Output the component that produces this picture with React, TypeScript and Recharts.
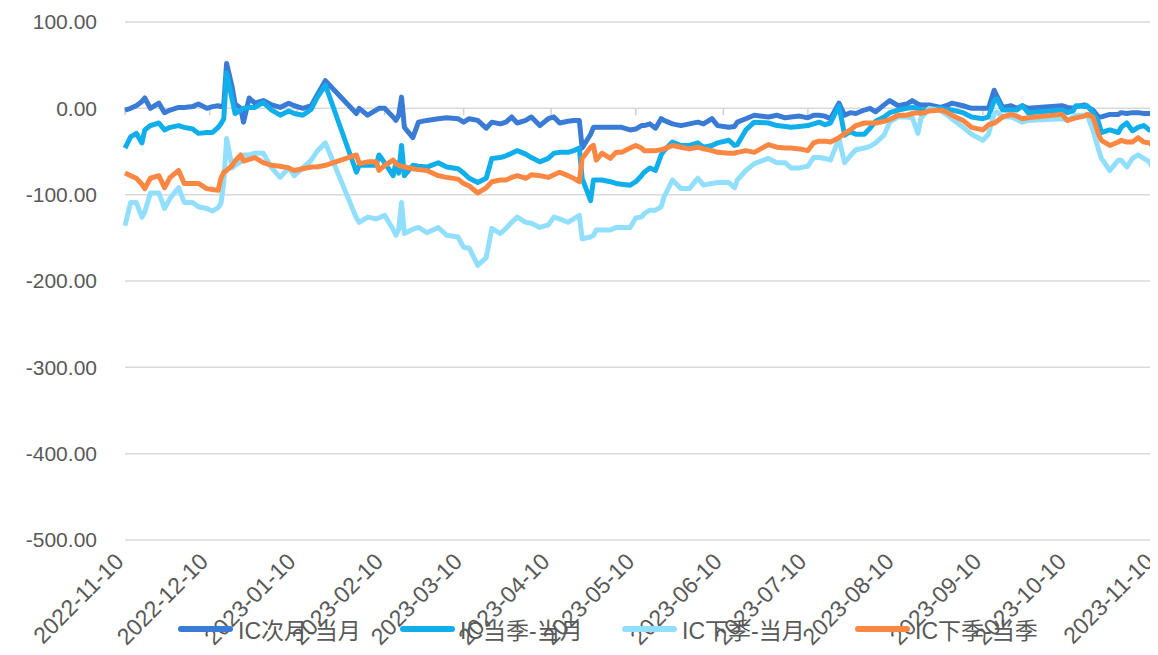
import { LineChart, Line, XAxis, YAxis, CartesianGrid, Legend, ReferenceLine } from 'recharts';

const dates = [
  '2022-11-10', '2022-11-12', '2022-11-14', '2022-11-16', '2022-11-17', '2022-11-19', '2022-11-22', '2022-11-24',
  '2022-11-26', '2022-11-29', '2022-12-01', '2022-12-04', '2022-12-06', '2022-12-09', '2022-12-11', '2022-12-13',
  '2022-12-14', '2022-12-15', '2022-12-16', '2022-12-18', '2022-12-19', '2022-12-21', '2022-12-22', '2022-12-24',
  '2022-12-26', '2022-12-29', '2023-01-01', '2023-01-04', '2023-01-07', '2023-01-09', '2023-01-12', '2023-01-15',
  '2023-01-17', '2023-01-20', '2023-01-31', '2023-02-01', '2023-02-04', '2023-02-07', '2023-02-08', '2023-02-10',
  '2023-02-13', '2023-02-14', '2023-02-15', '2023-02-16', '2023-02-17', '2023-02-20', '2023-02-22', '2023-02-25',
  '2023-03-01', '2023-03-04', '2023-03-08', '2023-03-10', '2023-03-12', '2023-03-15', '2023-03-18', '2023-03-20',
  '2023-03-23', '2023-03-25', '2023-03-27', '2023-03-29', '2023-04-01', '2023-04-03', '2023-04-06', '2023-04-09',
  '2023-04-11', '2023-04-13', '2023-04-16', '2023-04-18', '2023-04-20', '2023-04-21', '2023-04-24', '2023-04-25',
  '2023-04-26', '2023-04-28', '2023-05-01', '2023-05-03', '2023-05-05', '2023-05-08', '2023-05-10', '2023-05-12',
  '2023-05-13', '2023-05-15', '2023-05-17', '2023-05-19', '2023-05-20', '2023-05-23', '2023-05-26', '2023-05-29',
  '2023-06-01', '2023-06-03', '2023-06-06', '2023-06-08', '2023-06-12', '2023-06-14', '2023-06-15', '2023-06-18',
  '2023-06-21', '2023-06-26', '2023-06-29', '2023-07-02', '2023-07-04', '2023-07-07', '2023-07-10', '2023-07-12',
  '2023-07-14', '2023-07-16', '2023-07-18', '2023-07-21', '2023-07-23', '2023-07-25', '2023-07-27', '2023-07-30',
  '2023-08-01', '2023-08-03', '2023-08-06', '2023-08-08', '2023-08-11', '2023-08-14', '2023-08-16', '2023-08-18',
  '2023-08-19', '2023-08-22', '2023-08-26', '2023-08-28', '2023-08-30', '2023-09-03', '2023-09-06', '2023-09-10',
  '2023-09-12', '2023-09-14', '2023-09-15', '2023-09-17', '2023-09-20', '2023-09-22', '2023-09-24', '2023-09-26',
  '2023-10-08', '2023-10-10', '2023-10-12', '2023-10-13', '2023-10-16', '2023-10-17', '2023-10-19', '2023-10-21',
  '2023-10-22', '2023-10-25', '2023-10-28', '2023-10-29', '2023-10-31', '2023-11-02', '2023-11-04', '2023-11-06',
  '2023-11-08', '2023-11-09',
];

// IC次月-当月
const nextMonth = [
  -2, 0, 3, 8, 12, 0, 6, -5, -2, 1, 1, 2, 5, 0, 2, 3,
  2, 4, 52, 24, 5, 0, -16, 12, 6, 9, 4, 1, 6, 3, 0, 3,
  15, 32, -6, 0, -8, -2, 0, 0, -10, -14, -8, 13, -22, -34, -16, -14,
  -12, -11, -12, -16, -12, -14, -23, -16, -18, -16, -10, -17, -14, -10, -20, -12,
  -10, -17, -15, -14, -14, -46, -30, -22, -22, -22, -22, -22, -22, -25, -24, -20,
  -20, -18, -23, -12, -14, -18, -20, -18, -16, -18, -12, -20, -22, -21, -16, -12,
  -8, -10, -8, -11, -10, -9, -11, -8, -8, -9, -12, 6, -8, -5, -6, -2,
  0, -4, 4, 9, 3, 5, 9, 5, 4, 4, 1, 3, 6, 3, 0, 0,
  0, 21, 14, 1, 3, 0, 3, 0, 3, 1, 0, 2, 4, 2, -2, -10,
  -10, -7, -7, -5, -6, -5, -5, -6, -6, -7,
];

// IC当季-当月
const curQuarter = [
  -46, -33, -29, -40, -25, -20, -17, -25, -22, -20, -22, -24, -29, -28, -28, -22,
  -18, -12, 41, 10, -6, -2, 0, 1, 1, 7, -2, -8, -3, -6, -8, -1,
  12, 27, -74, -66, -66, -66, -54, -63, -78, -63, -75, -43, -78, -66, -67, -68,
  -63, -68, -70, -75, -81, -86, -81, -58, -57, -55, -52, -49, -53, -57, -62, -58,
  -52, -51, -51, -49, -46, -81, -107, -83, -83, -83, -85, -87, -88, -89, -85, -78,
  -74, -69, -72, -54, -49, -39, -43, -43, -40, -45, -43, -40, -37, -43, -42, -25,
  -16, -17, -20, -21, -22, -21, -20, -18, -16, -19, -17, 3, -31, -27, -30, -30,
  -23, -15, -10, -5, -2, 0, 1, 0, -2, -1, 0, -1, -2, -5, -10, -12,
  -10, 9, 11, -2, -2, -2, 3, -5, -2, -5, -3, 3, 2, 3, -5, -16,
  -28, -25, -28, -22, -17, -26, -22, -20, -25, -25,
];

// IC下季-当月
const nextQuarter = [
  -136, -109, -109, -126, -120, -98, -98, -116, -104, -92, -109, -109, -114, -116, -119, -115,
  -110, -86, -35, -69, -66, -62, -54, -54, -52, -52, -69, -80, -69, -78, -69, -60,
  -50, -40, -127, -132, -126, -128, -127, -124, -140, -147, -140, -109, -145, -140, -138, -144,
  -138, -147, -149, -161, -162, -182, -173, -139, -145, -139, -132, -126, -132, -133, -138, -135,
  -126, -128, -132, -128, -124, -151, -149, -147, -141, -141, -141, -138, -138, -138, -127, -126,
  -122, -118, -118, -114, -103, -83, -93, -93, -81, -89, -87, -86, -86, -92, -83, -72,
  -64, -58, -63, -63, -69, -69, -67, -57, -57, -58, -60, -35, -63, -55, -48, -46,
  -44, -40, -31, -16, -10, -10, -11, -29, -12, 0, -3, -7, -12, -22, -30, -37,
  -30, -6, -4, -10, -10, -13, -16, -14, -12, -14, -10, -8, -8, -8, -25, -48,
  -58, -72, -60, -60, -68, -58, -54, -58, -62, -68,
];

// IC下季-当季
const nextVsCurQuarter = [
  -75, -78, -81, -88, -93, -81, -78, -92, -80, -72, -87, -87, -87, -93, -94, -95,
  -81, -74, -72, -66, -61, -54, -61, -59, -57, -63, -66, -67, -69, -72, -70, -68,
  -68, -66, -54, -64, -62, -62, -72, -66, -60, -64, -66, -67, -68, -70, -71, -72,
  -78, -80, -82, -87, -90, -98, -92, -85, -83, -83, -80, -78, -81, -77, -78, -80,
  -77, -74, -78, -81, -85, -58, -45, -43, -60, -52, -58, -51, -51, -46, -43, -46,
  -49, -49, -49, -48, -47, -43, -45, -47, -45, -47, -49, -51, -52, -52, -51, -49,
  -51, -42, -45, -46, -46, -47, -49, -40, -38, -38, -39, -34, -29, -25, -20, -17,
  -17, -17, -15, -13, -8, -8, -6, -5, -6, -3, -2, -4, -8, -14, -22, -25,
  -19, -17, -15, -10, -7, -9, -12, -11, -7, -14, -12, -11, -9, -7, -10, -30,
  -37, -43, -39, -37, -39, -39, -34, -39, -40, -43,
];

const seriesNames = ['IC次月-当月', 'IC当季-当月', 'IC下季-当月', 'IC下季-当季'];
const seriesColors = ['#3A7BD5', '#11AEEC', '#92DFFD', '#FB8742'];
const seriesKeys = ['a', 'b', 'c', 'd'];

const xTickDates = [
  '2022-11-10', '2022-12-10', '2023-01-10', '2023-02-10', '2023-03-10', '2023-04-10', '2023-05-10',
  '2023-06-10', '2023-07-10', '2023-08-10', '2023-09-10', '2023-10-10', '2023-11-10',
];
const yTicks = [-500, -400, -300, -200, -100, 0, 100];

const toTime = (d: string) => Date.parse(d + 'T00:00:00Z');

const data = dates.map((d, i) => ({
  t: toTime(d),
  a: nextMonth[i],
  b: curQuarter[i],
  c: nextQuarter[i],
  d: nextVsCurQuarter[i],
}));

const xTicks = xTickDates.map(toTime);
const fmtDate = (t: number) => new Date(t).toISOString().slice(0, 10);

const FONT = '"Liberation Sans", Arial, "Noto Sans CJK SC", sans-serif';
const TEXT = '#595959';

const DateTick = ({ x, y, payload }: any) => {
  const ax = x;
  const ay = y + 15;
  return (
    <text
      x={ax}
      y={ay}
      transform={`rotate(-45 ${ax} ${ay})`}
      textAnchor="end"
      fill={TEXT}
      fontSize={23}
      fontFamily={FONT}
    >
      {fmtDate(payload.value)}
    </text>
  );
};

const itemWidths = [222, 222, 233, 200];

const LegendContent = () => (
  <div style={{ display: 'flex', alignItems: 'center', fontFamily: FONT, fontSize: 23, color: TEXT }}>
    {seriesNames.map((name, i) => (
      <div key={name} style={{ display: 'flex', alignItems: 'center', width: itemWidths[i] }}>
        <span
          style={{
            display: 'inline-block',
            width: 55,
            height: 6,
            borderRadius: 3,
            background: seriesColors[i],
            marginRight: 5,
          }}
        />
        <span>{name}</span>
      </div>
    ))}
  </div>
);

export default function App() {
  return (
    <LineChart width={1150} height={647} data={data} margin={{ top: 14, right: 3, left: 0, bottom: 0 }}>
      <CartesianGrid vertical={false} stroke="#D9D9D9" strokeWidth={1.5} />
      <XAxis
        dataKey="t"
        type="number"
        scale="time"
        domain={[xTicks[0], xTicks[xTicks.length - 1]]}
        ticks={xTicks}
        interval={0}
        axisLine={false}
        tickLine={false}
        height={115}
        tick={<DateTick />}
      />
      <YAxis
        domain={[-500, 100]}
        ticks={yTicks}
        interval={0}
        width={117}
        axisLine={false}
        tickLine={false}
        tickMargin={22}
        tickFormatter={(v: number) => v.toFixed(2)}
        tick={{ fill: TEXT, fontSize: 21, fontFamily: FONT }}
      />
      {xTicks.map((t) => (
        <ReferenceLine
          key={t}
          segment={[{ x: t, y: 0 }, { x: t, y: -8 }]}
          stroke="#D0D0D0"
          strokeWidth={1.5}
          ifOverflow="extendDomain"
        />
      ))}
      {seriesKeys.map((k, i) => (
        <Line
          key={k}
          type="linear"
          dataKey={k}
          name={seriesNames[i]}
          stroke={seriesColors[i]}
          strokeWidth={5}
          strokeLinejoin="round"
          dot={false}
          activeDot={false}
          isAnimationActive={false}
        />
      ))}
      <Legend
        layout="horizontal"
        verticalAlign="middle"
        align="center"
        content={<LegendContent />}
        wrapperStyle={{ top: 604, left: 170, width: 'auto' }}
      />
    </LineChart>
  );
}
